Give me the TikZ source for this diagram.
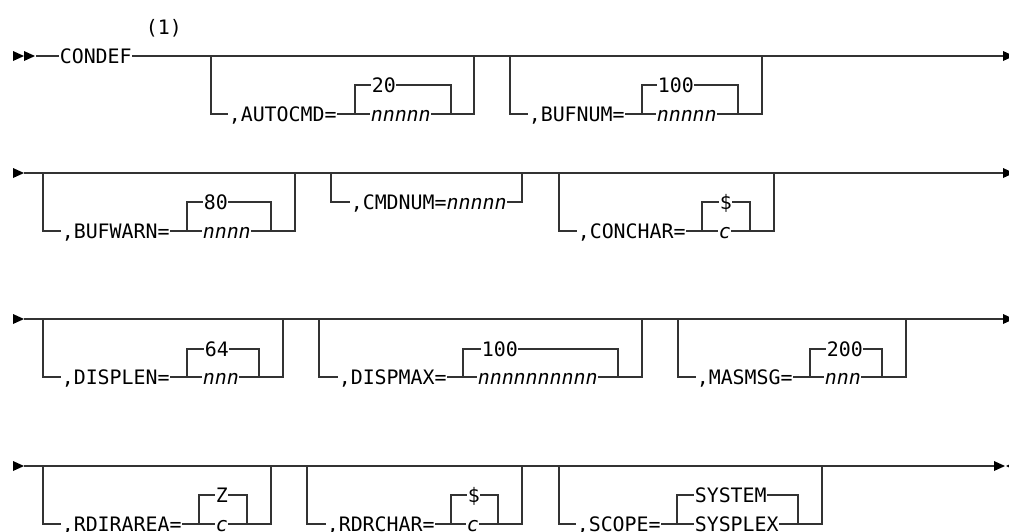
\documentclass[tikz,border=0pt]{standalone}
\usepackage{fontspec}
\setmonofont{DejaVu Sans Mono}
\definecolor{railc}{HTML}{333333}
\tikzset{
  rail/.style={line width=1.3pt, draw=railc},
  lbl/.style={font=\ttfamily\fontsize{19.9}{24}\selectfont, anchor=base west, inner xsep=0.6pt, inner ysep=0pt, fill=white, text=black},
  tip/.style={fill=black},
}
\begin{document}
\begin{tikzpicture}[x=1pt,y=-1pt]
\useasboundingbox (0,0) rectangle (1009,531);
\begin{scope}
\clip (0,0) rectangle (1009,531);
% ---------------- Row 1 ----------------
\draw[rail] (36,56) -- (1004,56);
\draw[rail] (211,56) -- (211,114) -- (474,114) -- (474,56);
\draw[rail] (355,114) -- (355,85) -- (451,85) -- (451,114);
\draw[rail] (510,56) -- (510,114) -- (762,114) -- (762,56);
\draw[rail] (642,114) -- (642,85) -- (738,85) -- (738,114);
\fill[tip] (13,51) -- (24,56) -- (13,61) -- cycle;
\fill[tip] (24,51) -- (35,56) -- (24,61) -- cycle;
\fill[tip] (1003,51) -- (1014,56) -- (1003,61) -- cycle;
\node[lbl] (condef) at (59,63) {CONDEF};
\node[lbl,fill=none] (note) at (145,34) {(1)};
\node[lbl] (autocmd) at (228,121) {,AUTOCMD=};
\node[lbl] (ac20) at (371,92) {20};
\node[lbl] (acn) at (370,121) {\itshape nnnnn};
\node[lbl] (bufnum) at (528,121) {,BUFNUM=};
\node[lbl] (bn100) at (657,92) {100};
\node[lbl] (bnn) at (656,121) {\itshape nnnnn};
% ---------------- Row 2 ----------------
\draw[rail] (24,173) -- (1004,173);
\draw[rail] (43,173) -- (43,231) -- (295,231) -- (295,173);
\draw[rail] (187,231) -- (187,202) -- (271,202) -- (271,231);
\draw[rail] (331,173) -- (331,202) -- (522,202) -- (522,173);
\draw[rail] (559,173) -- (559,231) -- (774,231) -- (774,173);
\draw[rail] (702,231) -- (702,202) -- (750,202) -- (750,231);
\fill[tip] (13,168) -- (24,173) -- (13,178) -- cycle;
\fill[tip] (1003,168) -- (1014,173) -- (1003,178) -- cycle;
\node[lbl] (bufwarn) at (61,238) {,BUFWARN=};
\node[lbl] (bw80) at (203,209) {80};
\node[lbl] (bwn) at (202,238) {\itshape nnnn};
\node[lbl] (cmdnum) at (350,209) {,CMDNUM=\itshape nnnnn};
\node[lbl] (conchar) at (577,238) {,CONCHAR=};
\node[lbl] (ccd) at (719,209) {\$};
\node[lbl] (ccc) at (718,238) {\itshape c};
% ---------------- Row 3 ----------------
\draw[rail] (24,319) -- (1004,319);
\draw[rail] (43,319) -- (43,377) -- (283,377) -- (283,319);
\draw[rail] (187,377) -- (187,349) -- (259,349) -- (259,377);
\draw[rail] (319,319) -- (319,377) -- (642,377) -- (642,319);
\draw[rail] (463,377) -- (463,349) -- (618,349) -- (618,377);
\draw[rail] (678,319) -- (678,377) -- (906,377) -- (906,319);
\draw[rail] (810,377) -- (810,349) -- (882,349) -- (882,377);
\fill[tip] (13,314) -- (24,319) -- (13,324) -- cycle;
\fill[tip] (1003,314) -- (1014,319) -- (1003,324) -- cycle;
\node[lbl] (displen) at (61,384) {,DISPLEN=};
\node[lbl] (dl64) at (204,356) {64};
\node[lbl] (dln) at (202,384) {\itshape nnn};
\node[lbl] (dispmax) at (338,384) {,DISPMAX=};
\node[lbl] (dm100) at (481,356) {100};
\node[lbl] (dmn) at (477,384) {\itshape nnnnnnnnnn};
\node[lbl] (masmsg) at (696,384) {,MASMSG=};
\node[lbl] (mm200) at (826,356) {200};
\node[lbl] (mmn) at (824,384) {\itshape nnn};
% ---------------- Row 4 ----------------
\draw[rail] (24,466) -- (995,466);
\draw[rail] (43,466) -- (43,524) -- (271,524) -- (271,466);
\draw[rail] (199,524) -- (199,495) -- (247,495) -- (247,524);
\draw[rail] (307,466) -- (307,524) -- (522,524) -- (522,466);
\draw[rail] (451,524) -- (451,495) -- (498,495) -- (498,524);
\draw[rail] (559,466) -- (559,524) -- (822,524) -- (822,466);
\draw[rail] (677,524) -- (677,495) -- (798,495) -- (798,524);
\draw[line width=2.2pt, draw=railc] (827,465.6) -- (850,465.6);
\fill[tip] (13,461) -- (24,466) -- (13,471) -- cycle;
\fill[tip] (994,461) -- (1005,466) -- (994,471) -- cycle;
\fill[tip] (1017,461) -- (1006,466) -- (1017,471) -- cycle;
\node[lbl] (rdirarea) at (61,531) {,RDIRAREA=};
\node[lbl] (raz) at (215,502) {Z};
\node[lbl] (rac) at (215,531) {\itshape c};
\node[lbl] (rdrchar) at (326,531) {,RDRCHAR=};
\node[lbl] (rcd) at (467,502) {\$};
\node[lbl] (rcc) at (466,531) {\itshape c};
\node[lbl] (scope) at (576,531) {,SCOPE=};
\node[lbl] (system) at (694,502) {SYSTEM};
\node[lbl] (sysplex) at (694,531) {SYSPLEX};
\end{scope}
\end{tikzpicture}
\end{document}
